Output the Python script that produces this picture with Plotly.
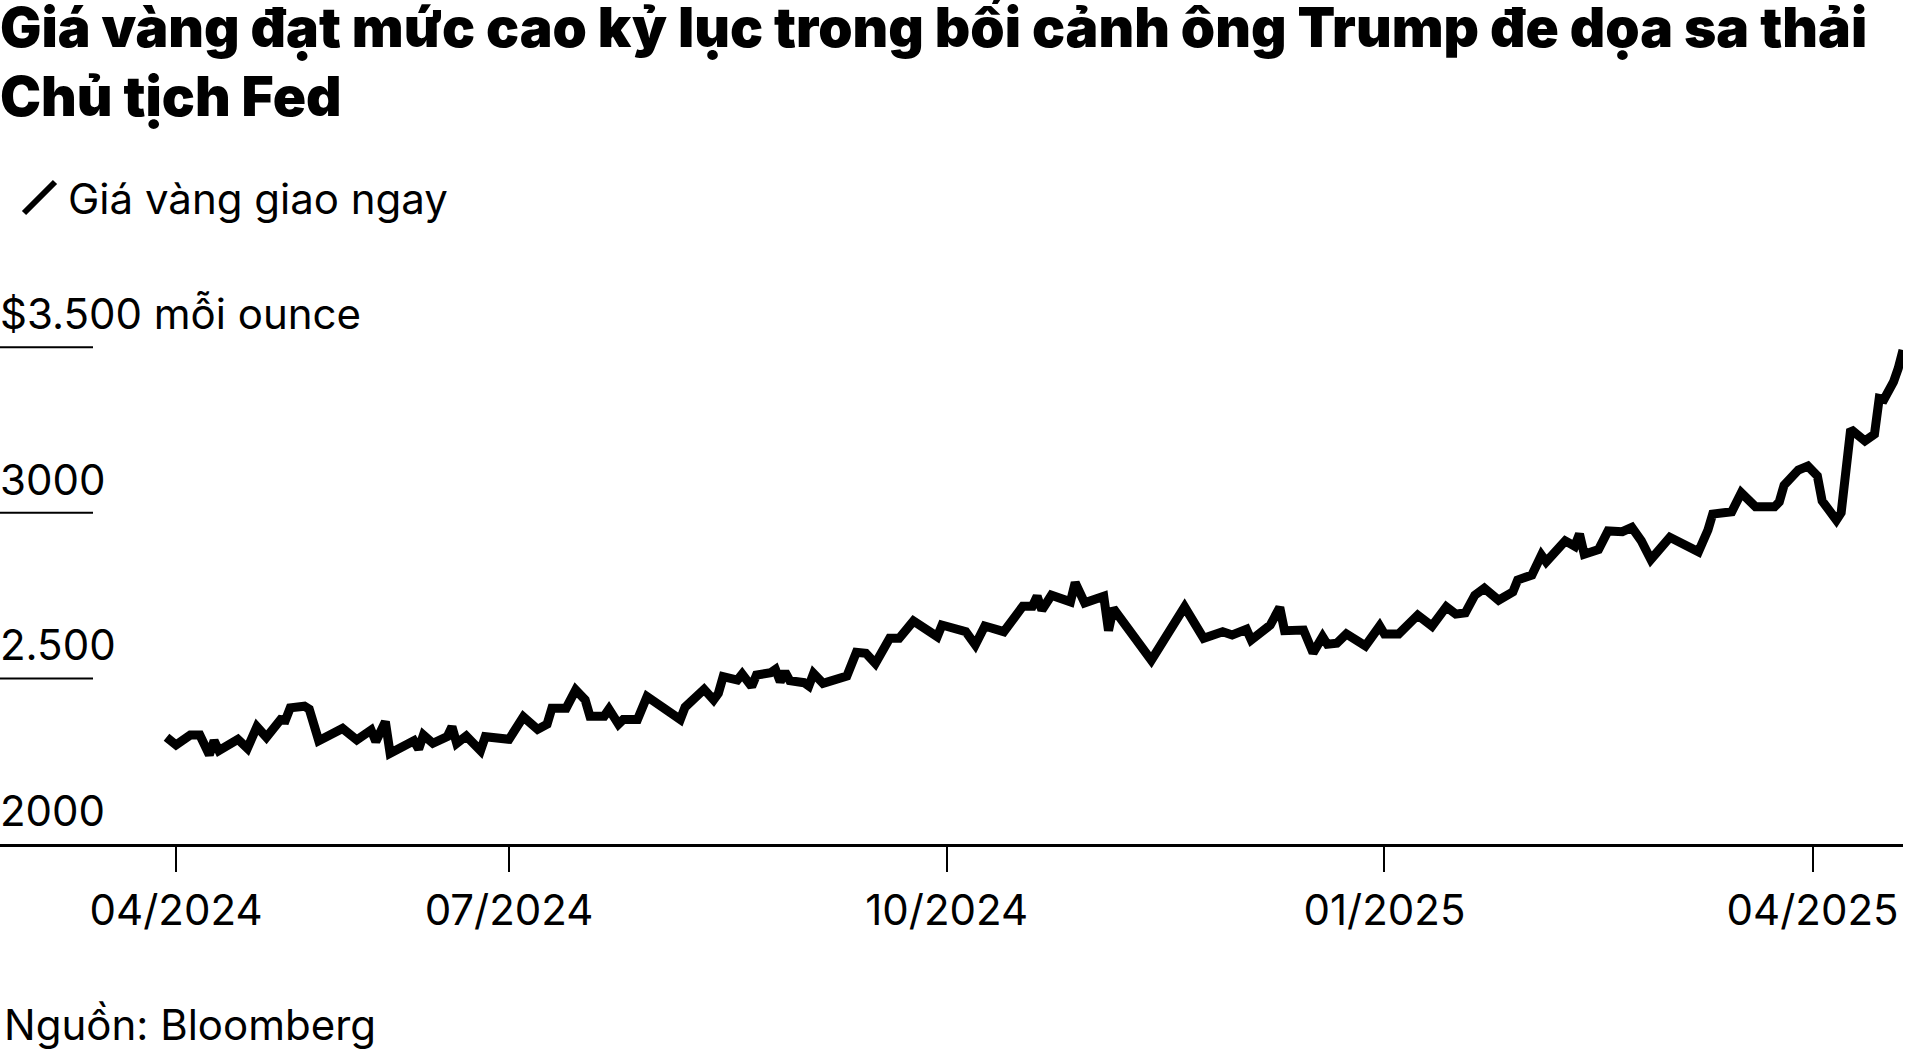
import plotly.graph_objects as go

# gia vang giao ngay (USD/ounce)
dates = [
    "2024-04-20", "2024-04-22", "2024-04-25", "2024-04-27", "2024-04-29", "2024-04-30",
    "2024-05-01", "2024-05-05", "2024-05-07", "2024-05-09", "2024-05-11", "2024-05-14",
    "2024-05-15", "2024-05-16", "2024-05-19", "2024-05-20", "2024-05-22", "2024-05-27",
    "2024-05-30", "2024-06-02", "2024-06-03", "2024-06-05", "2024-06-06", "2024-06-11",
    "2024-06-12", "2024-06-13", "2024-06-15", "2024-06-18", "2024-06-19", "2024-06-20",
    "2024-06-22", "2024-06-25", "2024-06-26", "2024-07-01", "2024-07-04", "2024-07-07",
    "2024-07-09", "2024-07-10", "2024-07-13", "2024-07-15", "2024-07-17", "2024-07-18",
    "2024-07-21", "2024-07-22", "2024-07-24", "2024-07-25", "2024-07-28", "2024-07-30",
    "2024-08-06", "2024-08-07", "2024-08-11", "2024-08-13", "2024-08-14", "2024-08-15",
    "2024-08-18", "2024-08-19", "2024-08-21", "2024-08-22", "2024-08-25", "2024-08-26",
    "2024-08-27", "2024-08-28", "2024-08-29", "2024-09-01", "2024-09-02", "2024-09-03",
    "2024-09-05", "2024-09-10", "2024-09-12", "2024-09-14", "2024-09-16", "2024-09-19",
    "2024-09-21", "2024-09-23", "2024-09-24", "2024-09-29", "2024-09-30", "2024-10-05",
    "2024-10-07", "2024-10-09", "2024-10-13", "2024-10-17", "2024-10-19", "2024-10-20",
    "2024-10-21", "2024-10-23", "2024-10-27", "2024-10-28", "2024-10-30", "2024-11-03",
    "2024-11-04", "2024-11-05", "2024-11-13", "2024-11-20", "2024-11-24", "2024-11-28",
    "2024-11-30", "2024-12-03", "2024-12-04", "2024-12-08", "2024-12-10", "2024-12-11",
    "2024-12-15", "2024-12-17", "2024-12-19", "2024-12-20", "2024-12-22", "2024-12-24",
    "2024-12-28", "2024-12-31", "2025-01-01", "2025-01-04", "2025-01-08", "2025-01-11",
    "2025-01-14", "2025-01-16", "2025-01-18", "2025-01-20", "2025-01-22", "2025-01-25",
    "2025-01-28", "2025-01-29", "2025-02-01", "2025-02-03", "2025-02-04", "2025-02-08",
    "2025-02-10", "2025-02-11", "2025-02-12", "2025-02-15", "2025-02-17", "2025-02-20",
    "2025-02-22", "2025-02-24", "2025-02-26", "2025-03-02", "2025-03-08", "2025-03-10",
    "2025-03-11", "2025-03-15", "2025-03-17", "2025-03-20", "2025-03-24", "2025-03-25",
    "2025-03-26", "2025-03-29", "2025-03-31", "2025-04-02", "2025-04-03", "2025-04-06",
    "2025-04-07", "2025-04-09", "2025-04-12", "2025-04-14", "2025-04-15", "2025-04-16",
    "2025-04-18", "2025-04-19", "2025-04-20",
]
prices = [
    2322, 2299, 2329, 2329, 2269, 2312,
    2282, 2316, 2289, 2354, 2322, 2376,
    2374, 2411, 2416, 2407, 2312, 2349,
    2314, 2344, 2309, 2369, 2274, 2312,
    2287, 2329, 2304, 2324, 2354, 2304,
    2326, 2282, 2324, 2316, 2384, 2346,
    2362, 2410, 2410, 2465, 2435, 2386,
    2386, 2407, 2362, 2376, 2376, 2445,
    2376, 2413, 2467, 2435, 2455, 2505,
    2495, 2513, 2475, 2510, 2517, 2527,
    2490, 2520, 2493, 2487, 2477, 2515,
    2485, 2507, 2579, 2576, 2545, 2621,
    2621, 2651, 2673, 2626, 2661, 2641,
    2601, 2658, 2641, 2718, 2718, 2748,
    2706, 2751, 2731, 2789, 2728, 2748,
    2644, 2711, 2555, 2716, 2621, 2641,
    2631, 2648, 2616, 2661, 2714, 2644,
    2646, 2577, 2626, 2603, 2606, 2634,
    2598, 2658, 2634, 2634, 2691, 2658,
    2716, 2694, 2698, 2751, 2772, 2736,
    2761, 2797, 2812, 2872, 2852, 2915,
    2899, 2936, 2875, 2889, 2945, 2943,
    2956, 2915, 2859, 2926, 2882, 2948,
    2996, 3003, 3060, 3018, 3018, 3033,
    3083, 3129, 3141, 3111, 3036, 2978,
    3000, 3252, 3217, 3237, 3345, 3342,
    3395, 3436, 3491,
]

x_tickvals = ["2024-04-22", "2024-07-01", "2024-10-01", "2025-01-01", "2025-04-01"]
x_ticktext = ["04/2024", "07/2024", "10/2024", "01/2025", "04/2025"]

y_levels = [2000, 2500, 3000, 3500]
y_labels = ["2000", "2.500", "3000", "$3.500 mỗi ounce"]

title_lines = ["Giá vàng đạt mức cao kỷ lục trong bối cảnh ông Trump đe dọa sa thải",
               "Chủ tịch Fed"]
series_name = "Giá vàng giao ngay"
source = "Nguồn: Bloomberg"

FONT = "Inter"
W, H = 1920, 1051
L, R, T, B = 0, 17, 314, 207
plot_w = W - L - R
plot_h = H - T - B


def px_y(py):
    # page pixel row -> paper y
    return (H - B - py) / plot_h


fig = go.Figure()
fig.add_trace(go.Scatter(x=dates, y=prices, mode="lines", name=series_name,
                         line=dict(color="#000000", width=9),
                         cliponaxis=False, showlegend=False))

# title, two lines
for i, line in enumerate(title_lines):
    fig.add_annotation(x=0, xref="paper", y=px_y(27 + 69 * i), yref="paper", text=line,
                       showarrow=False, xanchor="left", yanchor="middle", xshift=-2,
                       font=dict(family=FONT, size=55, weight=900, color="#000000"))

# y labels sit above short rules at the left
for v, t in zip(y_levels, y_labels):
    fig.add_annotation(x=0, xref="paper", y=v, yref="y", text=t, showarrow=False,
                       xanchor="left", yanchor="bottom", yshift=6, xshift=-2,
                       font=dict(family=FONT, size=42, color="#000000"))
    if v > y_levels[0]:
        fig.add_shape(type="line", xref="paper", yref="y", x0=0, x1=93 / plot_w,
                      y0=v, y1=v, line=dict(color="#000000", width=2))

# legend: slash + label
fig.add_shape(type="line", xref="paper", yref="paper",
              x0=24 / plot_w, y0=px_y(213), x1=55 / plot_w, y1=px_y(182),
              line=dict(color="#000000", width=6))
fig.add_annotation(x=66 / plot_w, xref="paper", y=px_y(198), yref="paper", text=series_name,
                   showarrow=False, xanchor="left", yanchor="middle",
                   font=dict(family=FONT, size=42, color="#000000"))

fig.add_annotation(x=0, xref="paper", y=px_y(1024), yref="paper", text=source,
                   showarrow=False, xanchor="left", yanchor="middle", xshift=2,
                   font=dict(family=FONT, size=42, color="#000000"))

fig.update_layout(
    width=W, height=H,
    margin=dict(l=L, r=R, t=T, b=B),
    paper_bgcolor="#ffffff", plot_bgcolor="#ffffff",
    xaxis=dict(type="date", range=["2024-03-16", "2025-04-20"],
               tickvals=x_tickvals, ticktext=x_ticktext,
               showgrid=False, zeroline=False,
               showline=True, linecolor="#000000", linewidth=2.5,
               ticks="outside", ticklen=25, tickwidth=1.5, tickcolor="#000000",
               ticklabelstandoff=3,
               tickfont=dict(family=FONT, size=42, color="#000000")),
    yaxis=dict(range=[2000, 3600], visible=False, fixedrange=True),
)

# page body has a default margin; drop it so the figure sits at the corner
fig.write_html("out.html", config={"displayModeBar": False},
               post_script="document.body.style.margin='0';")
